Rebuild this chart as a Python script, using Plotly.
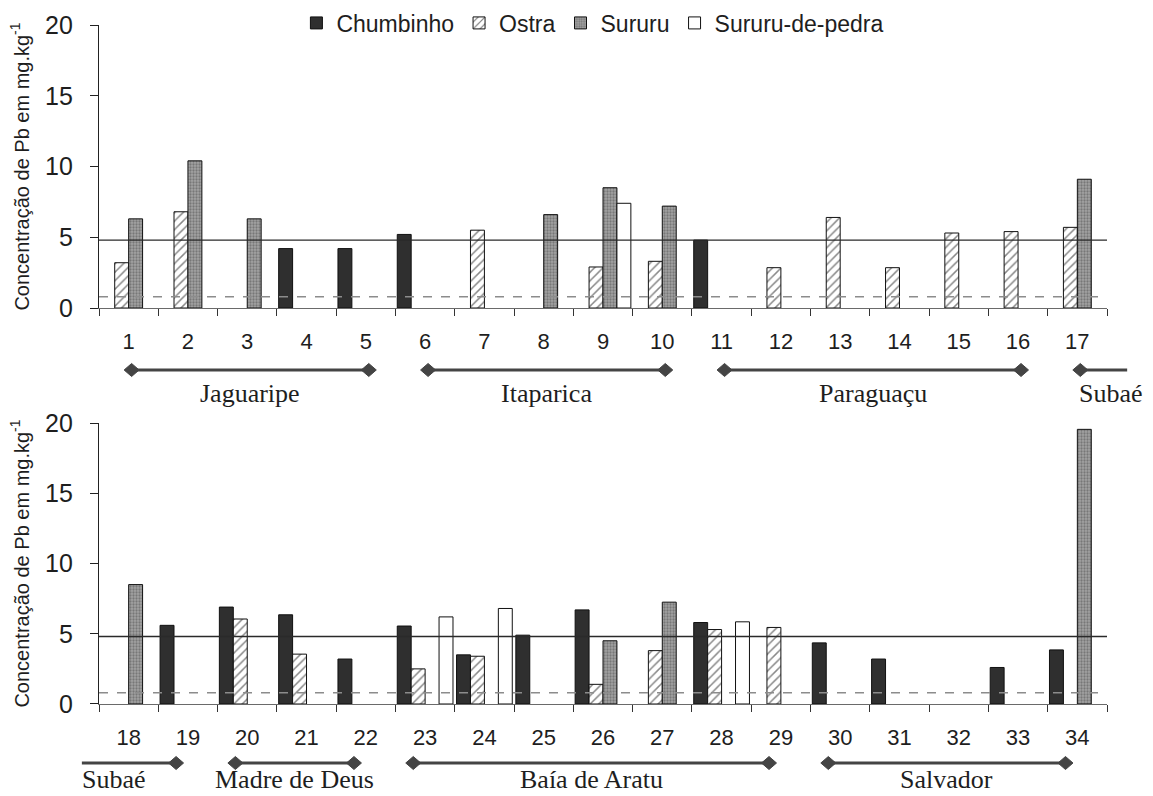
import plotly.graph_objects as go

# Sampling sites shown in each panel
sites_top = list(range(1, 18))
sites_bottom = list(range(18, 35))

species = ["Chumbinho", "Ostra", "Sururu", "Sururu-de-pedra"]

# Pb concentration (mg/kg) by site; None where the species was not sampled
chumbinho_top = [None, None, None, 4.2, 4.2, 5.2, None, None, None, None, 4.8, None, None, None, None, None, None]
ostra_top = [3.2, 6.8, None, None, None, None, 5.5, None, 2.9, 3.3, None, 2.85, 6.4, 2.85, 5.3, 5.4, 5.7]
sururu_top = [6.3, 10.4, 6.3, None, None, None, None, 6.6, 8.5, 7.2, None, None, None, None, None, None, 9.1]
pedra_top = [None, None, None, None, None, None, None, None, 7.4, None, None, None, None, None, None, None, None]

chumbinho_bottom = [None, 5.6, 6.9, 6.35, 3.2, 5.55, 3.5, 4.9, 6.7, None, 5.8, None, 4.35, 3.2, None, 2.6, 3.85]
ostra_bottom = [None, None, 6.05, 3.55, None, 2.5, 3.4, None, 1.4, 3.8, 5.3, 5.45, None, None, None, None, None]
sururu_bottom = [8.5, None, None, None, None, None, None, None, 4.5, 7.25, None, None, None, None, None, None, 19.55]
pedra_bottom = [None, None, None, None, None, 6.2, 6.8, None, None, None, 5.85, None, None, None, None, None, None]

# Reference levels drawn across both panels
limite_superior = 4.8
limite_inferior = 0.8

# Regions: name, first site, last site
regioes = [
    ("Jaguaripe", 1, 5),
    ("Itaparica", 6, 10),
    ("Paraguaçu", 11, 16),
    ("Subaé", 17, 19),
    ("Madre de Deus", 20, 22),
    ("Baía de Aratu", 23, 29),
    ("Salvador", 30, 34),
]

SANS = "Liberation Sans, Arial, sans-serif"
SERIF = "Liberation Serif, Times New Roman, serif"
INK = "#1e1e1e"

styles = {
    "Chumbinho": dict(color="#2f2f2f", line=dict(color="#111", width=1)),
    "Ostra": dict(color="white", line=dict(color="#111", width=1),
                  pattern=dict(shape="/", fgcolor="#111", bgcolor="white", size=6, solidity=0.25)),
    "Sururu": dict(color="#8a8a8a", line=dict(color="#111", width=1),
                   pattern=dict(shape=".", fgcolor="#4a4a4a", bgcolor="#a4a4a4", size=3, solidity=0.45)),
    "Sururu-de-pedra": dict(color="white", line=dict(color="#111", width=1)),
}

fig = go.Figure()

panels = [
    ("x", "y", sites_top, [chumbinho_top, ostra_top, sururu_top, pedra_top], True),
    ("x2", "y2", sites_bottom, [chumbinho_bottom, ostra_bottom, sururu_bottom, pedra_bottom], False),
]

for xa, ya, sites, series, show in panels:
    for name, vals in zip(species, series):
        fig.add_trace(go.Bar(
            x=sites, y=vals, name=name, xaxis=xa, yaxis=ya,
            marker=styles[name], showlegend=show, legendgroup=name,
            hoverinfo="x+y+name",
        ))

fig.update_layout(
    width=1153, height=796,
    margin=dict(l=99, r=46, t=25, b=92, autoexpand=False),
    paper_bgcolor="white", plot_bgcolor="white",
    barmode="group", bargap=0.06, bargroupgap=0,
    font=dict(family=SANS, color=INK),
    legend=dict(orientation="h", x=0.49, xanchor="center", y=1.003, yanchor="middle",
                font=dict(size=23, family=SANS, color=INK), bgcolor="rgba(0,0,0,0)",
                itemwidth=30, traceorder="normal"),
)

top_domain = [0.5832, 1.0]
bottom_domain = [0.0, 0.4138]


def xaxis_cfg(sites, anchor):
    bounds = [s - 0.5 for s in sites] + [sites[-1] + 0.5]
    return dict(
        domain=[0, 1], anchor=anchor, range=[sites[0] - 0.5, sites[-1] + 0.5],
        tickmode="array", tickvals=sites, ticktext=[str(s) for s in sites],
        ticks="", ticklabelstandoff=14, tickfont=dict(size=22, family=SANS, color=INK),
        showline=True, linecolor="#6a6a6a", linewidth=1, showgrid=False, zeroline=False,
        automargin=False,
        minor=dict(tickmode="array", tickvals=bounds, ticks="outside", ticklen=7,
                   tickcolor="#333", tickwidth=1, showgrid=False),
    )


def yaxis_cfg(domain, anchor):
    return dict(
        domain=domain, anchor=anchor, range=[0, 20], tickvals=[0, 5, 10, 15, 20],
        ticks="outside", ticklen=8, tickcolor="#222", tickwidth=1,
        ticklabelstandoff=12, tickfont=dict(size=25, family=SANS, color=INK),
        showline=True, linecolor="#222", linewidth=1.3, showgrid=False, zeroline=False,
        automargin=False,
        title=dict(text="Concentração de Pb em mg.kg<sup>-1</sup>",
                   font=dict(size=20, family=SANS, color=INK), standoff=10),
    )


fig.update_layout(
    xaxis=xaxis_cfg(sites_top, "y"),
    yaxis=yaxis_cfg(top_domain, "x"),
    xaxis2=xaxis_cfg(sites_bottom, "y2"),
    yaxis2=yaxis_cfg(bottom_domain, "x2"),
)

# Reference levels
for xa, ya in (("x", "y"), ("x2", "y2")):
    fig.add_shape(type="line", xref=f"{xa} domain", yref=ya, x0=0, x1=1,
                  y0=limite_superior, y1=limite_superior,
                  line=dict(color="#2a2a2a", width=1.4), layer="above")
    fig.add_shape(type="line", xref=f"{xa} domain", yref=ya, x0=0, x1=1,
                  y0=limite_inferior, y1=limite_inferior,
                  line=dict(color="#8c8c8c", width=1.4, dash="dash"), layer="above")

# Region brackets under each panel
bracket_y = {"x": 0.4919, "x2": -0.0869}
label_y = {"x": 0.458, "x2": -0.1105}
shift = {"x": 0.05, "x2": -0.2}
OPEN = 0.8
DIAMOND = "M -7.5 0 L 0 6.5 L 7.5 0 L 0 -6.5 Z"
BRACKET = "#444"
REGION_FONT = dict(size=26, family=SERIF, color=INK)

for xa, sites in (("x", sites_top), ("x2", sites_bottom)):
    lo, hi = sites[0], sites[-1]
    by = bracket_y[xa]
    for name, first, last in regioes:
        if last < lo or first > hi:
            continue
        open_left = first < lo
        open_right = last > hi
        a = (lo - OPEN) if open_left else first + shift[xa]
        b = (hi + OPEN) if open_right else last + shift[xa]
        fig.add_shape(type="line", xref=xa, yref="paper", x0=max(a, lo - 0.5), x1=min(b, hi + 0.5),
                      y0=by, y1=by, line=dict(color=BRACKET, width=3))
        # continuation of an open bracket past the axis end
        if open_right:
            fig.add_shape(type="line", xref=f"{xa} domain", yref="paper", x0=1.0, x1=1.02,
                          y0=by, y1=by, line=dict(color=BRACKET, width=3))
        if open_left:
            fig.add_shape(type="line", xref=f"{xa} domain", yref="paper", x0=-0.017, x1=0.0,
                          y0=by, y1=by, line=dict(color=BRACKET, width=3))
        for end, is_open in ((a, open_left), (b, open_right)):
            if not is_open:
                fig.add_shape(type="path", xref=xa, yref="paper", xsizemode="pixel", ysizemode="pixel",
                              xanchor=end, yanchor=by, path=DIAMOND,
                              fillcolor=BRACKET, line=dict(color=BRACKET, width=1))
        label = dict(y=label_y[xa], yref="paper", yanchor="middle", text=name,
                     showarrow=False, font=REGION_FONT, xref=xa)
        if open_right:
            fig.add_annotation(x=first, xanchor="left", **label)
        elif open_left:
            fig.add_annotation(x=lo, xanchor="center", xshift=-15, **label)
        else:
            fig.add_annotation(x=(a + b) / 2, xanchor="center", **label)

fig.write_html("out.html")
